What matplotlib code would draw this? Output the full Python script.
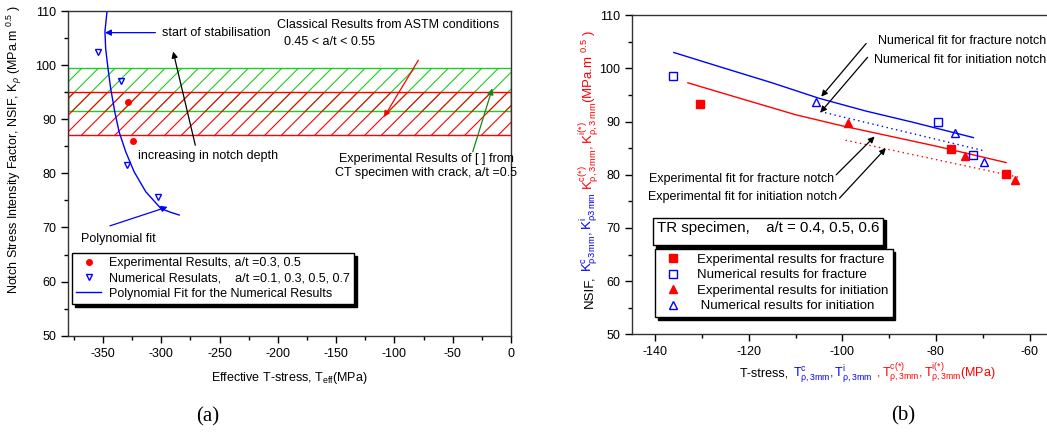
import matplotlib
matplotlib.use('Agg')
import matplotlib.pyplot as plt
import matplotlib.transforms as mtransforms
from matplotlib.ticker import MultipleLocator

plt.rcParams['font.family'] = ['Liberation Sans', 'DejaVu Sans']
plt.rcParams['font.size'] = 9
plt.rcParams['axes.unicode_minus'] = False
plt.rcParams['mathtext.fontset'] = 'custom'
plt.rcParams['mathtext.rm'] = 'Liberation Sans'
plt.rcParams['mathtext.it'] = 'Liberation Sans:italic'
plt.rcParams['mathtext.sf'] = 'Liberation Sans'
plt.rcParams['hatch.linewidth'] = 0.8

BLUE = '#0000ff'
RED = '#ff0000'
GREEN = '#1fcc1f'

# ---- panel (a): NSIF vs effective T-stress
exp_a_T = [-328.2, -324.4]
exp_a_K = [93.2, 85.9]
num_a_T = [-354.0, -334.8, -329.6, -302.9]
num_a_K = [102.4, 97.1, 81.5, 75.6]
fit_a_T = [-346.5, -348.3, -347.7, -345.7, -343.4, -339.9, -336.2, -330.5, -323.3, -313.3, -300.3, -292.0, -284.6]
fit_a_K = [110.0, 106.2, 103.1, 99.4, 95.7, 91.4, 87.7, 84.0, 80.3, 76.6, 73.5, 72.8, 72.3]
astm_band = [91.5, 99.5]
ct_band = [87.0, 95.1]

# ---- panel (b): TR specimen
exp_frac_T = [-130.3, -76.7, -65.0]
exp_frac_K = [93.4, 84.8, 80.1]
num_frac_T = [-136.1, -79.6, -72.1]
num_frac_K = [98.5, 90.0, 83.7]
exp_init_T = [-98.8, -73.7, -63.2]
exp_init_K = [89.7, 83.6, 79.0]
num_init_T = [-105.6, -76.0, -69.8]
num_init_K = [93.7, 87.8, 82.5]
num_frac_fit_T = [-136, -125, -115, -105, -95, -85, -72]
num_frac_fit_K = [103.0, 100.0, 97.3, 94.4, 92.0, 89.9, 87.0]
exp_frac_fit_T = [-133, -120, -110, -100, -90, -80, -65]
exp_frac_fit_K = [97.3, 93.9, 91.3, 89.2, 87.3, 85.4, 82.3]
num_init_fit_T = [-104.7, -69.6]
num_init_fit_K = [91.9, 84.5]
exp_init_fit_T = [-99.3, -62.1]
exp_init_fit_K = [86.5, 79.5]

W, H = 1047, 432
fig = plt.figure(figsize=(W / 100, H / 100), dpi=100)
axa = fig.add_axes([68 / W, 1 - 335.7 / H, 443 / W, 324.7 / H])
axb = fig.add_axes([631.7 / W, 1 - 334.3 / H, 421.2 / W, 319 / H])


def style_axes(ax):
    for sp in ax.spines.values():
        sp.set_linewidth(1.0)
        sp.set_color('#333333')
    ax.tick_params(which='both', direction='out', top=False, right=False, width=1.0, labelsize=9)
    ax.tick_params(which='major', length=5)
    ax.tick_params(which='minor', length=3)


# ---------------- panel (a)
axa.axhspan(astm_band[0], astm_band[1], facecolor='none', edgecolor=GREEN, hatch='//', linewidth=1.0, zorder=1)
axa.axhspan(ct_band[0], ct_band[1], facecolor='none', edgecolor=RED, hatch='//', linewidth=1.0, zorder=1.1)
axa.plot(exp_a_T, exp_a_K, 'o', color=RED, ms=4, ls='none', zorder=3,
         label='Experimental Results, a/t =0.3, 0.5')
axa.plot(num_a_T, num_a_K, 'v', mfc='none', mec=BLUE, ms=4.5, mew=1, ls='none', zorder=3,
         label='Numerical Resulats,    a/t =0.1, 0.3, 0.5, 0.7')
axa.plot(fit_a_T, fit_a_K, '-', color=BLUE, lw=1.0, zorder=2,
         label='Polynomial Fit for the Numerical Results')

axa.set_xlim(-380, 0)
axa.set_ylim(50, 110)
axa.xaxis.set_major_locator(MultipleLocator(50))
axa.xaxis.set_minor_locator(MultipleLocator(25))
axa.yaxis.set_major_locator(MultipleLocator(10))
axa.yaxis.set_minor_locator(MultipleLocator(5))
style_axes(axa)

arrow = dict(arrowstyle='-|>', lw=0.9, mutation_scale=9, shrinkA=0, shrinkB=0)
axa.annotate('', xy=(-348.3, 106), xytext=(-305, 106), arrowprops=dict(arrow, color=BLUE))
axa.text(-299, 106, 'start of stabilisation', va='center')
axa.text(-200.5, 107.4, 'Classical Results from ASTM conditions', va='center')
axa.text(-195, 104.2, '0.45 < a/t < 0.55', va='center')
axa.annotate('', xy=(-289.8, 102.5), xytext=(-270.8, 85.2), arrowprops=dict(arrow, color='k'))
axa.text(-319.9, 83.2, 'increasing in notch depth', va='center')
axa.annotate('', xy=(-109, 90.4), xytext=(-79.5, 100.9), arrowprops=dict(arrow, color=RED))
axa.annotate('', xy=(-16, 95.7), xytext=(-32.8, 84), arrowprops=dict(arrow, color='#118811'))
axa.text(-147.5, 82.7, 'Experimental Results of [ ] from', va='center')
axa.text(-151, 80.0, 'CT specimen with crack, a/t =0.5', va='center')
axa.text(-368.7, 67.8, 'Polynomial fit', va='center')
axa.annotate('', xy=(-294.6, 73.8), xytext=(-344, 70.3), arrowprops=dict(arrow, color=BLUE))

axa.legend(loc='upper left', bbox_to_anchor=(0.009, 0.255), borderaxespad=0, fancybox=False,
           edgecolor='k', framealpha=1, shadow={'color': 'k', 'alpha': 1}, fontsize=9,
           handlelength=2.0, handletextpad=0.6, labelspacing=0.25, borderpad=0.35)

# ---------------- panel (b)
axb.plot(num_frac_fit_T, num_frac_fit_K, '-', color=BLUE, lw=1.0, zorder=2)
axb.plot(exp_frac_fit_T, exp_frac_fit_K, '-', color=RED, lw=1.0, zorder=2)
axb.plot(num_init_fit_T, num_init_fit_K, ls=(0, (1, 2.5)), color=BLUE, lw=1.0, zorder=2)
axb.plot(exp_init_fit_T, exp_init_fit_K, ls=(0, (1, 2.5)), color=RED, lw=1.0, zorder=2)
h1, = axb.plot(exp_frac_T, exp_frac_K, 's', color=RED, ms=5.5, ls='none', zorder=3)
h2, = axb.plot(num_frac_T, num_frac_K, 's', mfc='none', mec=BLUE, ms=5.5, mew=1, ls='none', zorder=3)
h3, = axb.plot(exp_init_T, exp_init_K, '^', color=RED, ms=6, ls='none', zorder=3)
h4, = axb.plot(num_init_T, num_init_K, '^', mfc='none', mec=BLUE, ms=6, mew=1, ls='none', zorder=3)

axb.set_xlim(-145, -55)
axb.set_ylim(50, 110)
axb.xaxis.set_major_locator(MultipleLocator(20))
axb.xaxis.set_minor_locator(MultipleLocator(10))
axb.yaxis.set_major_locator(MultipleLocator(10))
axb.yaxis.set_minor_locator(MultipleLocator(5))
style_axes(axb)

axb.annotate('', xy=(-104.5, 94.7), xytext=(-94.9, 104.7), arrowprops=dict(arrow, color='k'))
axb.annotate('', xy=(-104.7, 91.7), xytext=(-94.6, 102.1), arrowprops=dict(arrow, color='k'))
axb.annotate('', xy=(-93.1, 87.2), xytext=(-101.3, 80.0), arrowprops=dict(arrow, color='k'))
axb.annotate('', xy=(-90.7, 85.0), xytext=(-100.6, 75.6), arrowprops=dict(arrow, color='k'))
axb.text(-92.3, 105.2, 'Numerical fit for fracture notch', va='center', clip_on=False)
axb.text(-93.3, 101.6, 'Numerical fit for initiation notch', va='center', clip_on=False)
axb.text(-141.2, 79.2, 'Experimental fit for fracture notch', va='center')
axb.text(-141.6, 75.9, 'Experimental fit for initiation notch', va='center')

tr_box = axb.legend(handles=[], labels=[], title='TR specimen,    a/t = 0.4, 0.5, 0.6', title_fontsize=10.8,
                    loc='upper left', bbox_to_anchor=(0.0506, 0.3655), borderaxespad=0, fancybox=False,
                    edgecolor='k', framealpha=1, shadow={'color': 'k', 'alpha': 1}, borderpad=0.3)
axb.add_artist(tr_box)
axb.legend([h1, h2, h3, h4],
           ['Experimental results for fracture', 'Numerical results for fracture',
            'Experimental results for initiation', ' Numerical results for initiation'],
           loc='upper left', bbox_to_anchor=(0.0553, 0.2674), borderaxespad=0, fancybox=False,
           edgecolor='k', framealpha=1, shadow={'color': 'k', 'alpha': 1}, fontsize=9.5,
           handlelength=2.0, handletextpad=0.8, labelspacing=0.25, borderpad=0.35)

# ---------------- axis labels
fig.text(14 / W, 1 - 150 / H,
         r'Notch Stress Intensity Factor, NSIF, K$_\rho$ (MPa.m $^{0.5}$ )',
         rotation=90, ha='center', va='center', fontsize=9)
fig.text(289 / W, 1 - 378 / H, r'Effective T-stress, T$_{\mathregular{eff}}$(MPa)',
         ha='center', va='center', fontsize=9)
fig.text(208 / W, 1 - 417 / H, '(a)', ha='center', va='center', fontsize=15,
         family=['Liberation Serif', 'DejaVu Serif'])
fig.text(903 / W, 1 - 416 / H, '(b)', ha='center', va='center', fontsize=15,
         family=['Liberation Serif', 'DejaVu Serif'])

pix = mtransforms.IdentityTransform()
fig.canvas.draw()
renderer = fig.canvas.get_renderer()

# multi-coloured y label of panel (b), built bottom to top
ylab_parts = [('NSIF,', 'k'),
              (r'$\mathregular{K^{c}_{\rho 3\,mm},K^{i}_{\rho 3\,mm}}$', BLUE),
              (r'$\mathregular{K^{c(*)}_{\rho,3\,mm},K^{i(*)}_{\rho,3\,mm}}$(MPa.m $^{0.5}$ )', RED)]
yy = H - 308
for s, c in ylab_parts:
    t = fig.text(589, yy, s, color=c, rotation=90, ha='center', va='bottom', transform=pix, fontsize=9.5)
    yy = t.get_window_extent(renderer).y1 + 3

# multi-coloured x label of panel (b), built left to right
xlab_parts = [('T-stress, ', 'k'),
              (r'$\mathregular{T^{c}_{\rho,3mm},T^{i}_{\rho,3mm}}$', BLUE),
              (r' $\mathregular{,T^{c(*)}_{\rho,3mm},T^{i(*)}_{\rho,3mm}}$(MPa)', RED)]
xx = 740
for s, c in xlab_parts:
    t = fig.text(xx, H - 377, s, color=c, ha='left', va='baseline', transform=pix, fontsize=9)
    xx = t.get_window_extent(renderer).x1 + 1

fig.savefig('out.png', dpi=100)
